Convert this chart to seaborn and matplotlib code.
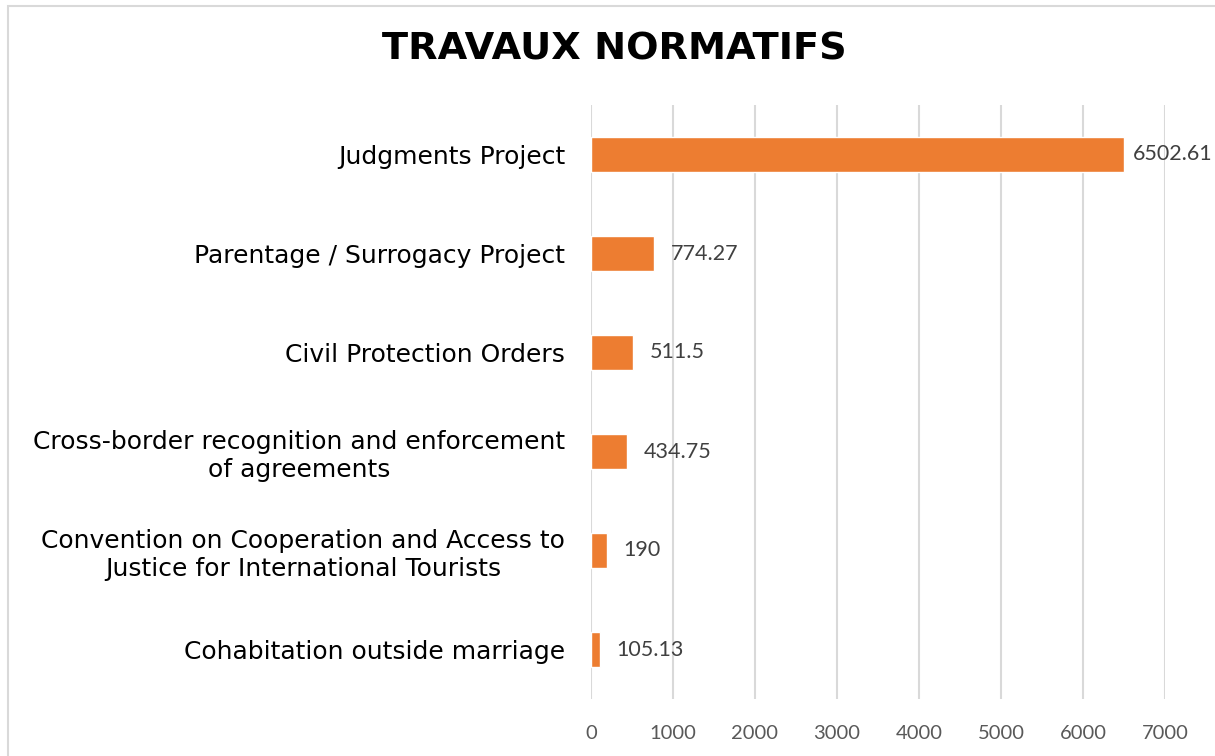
import matplotlib
matplotlib.use("Agg")
import matplotlib.pyplot as plt
import seaborn as sns
import pandas as pd
from matplotlib.patches import Rectangle

categories = [
    "Judgments Project",
    "Parentage / Surrogacy Project",
    "Civil Protection Orders",
    "Cross-border recognition and enforcement\nof agreements",
    "Convention on Cooperation and Access to\nJustice for International Tourists",
    "Cohabitation outside marriage",
]
values = [6502.61, 774.27, 511.5, 434.75, 190, 105.13]
value_labels = ["6502.61", "774.27", "511.5", "434.75", "190", "105.13"]
x_ticks = [0, 1000, 2000, 3000, 4000, 5000, 6000, 7000]
title = "TRAVAUX NORMATIFS"

sns.set_theme(style="white")
plt.rcParams["font.family"] = ["DejaVu Sans"]

df = pd.DataFrame({"cat": categories, "val": values})

fig = plt.figure(figsize=(12.15, 7.56), dpi=100)
fig.patch.set_facecolor("white")
ax = fig.add_axes([591 / 1215, 1 - 699 / 756, 574 / 1215, 594 / 756])

sns.barplot(data=df, y="cat", x="val", orient="h", color="#ED7D31",
            width=0.35, ax=ax, saturation=1, zorder=3)

ax.set_xlim(0, 7000)
ax.set_ylim(5.5, -0.5)
ax.set_xticks(x_ticks)
ax.set_xticklabels([str(t) for t in x_ticks], fontsize=14.5, color="#595959",
                   family="Lato")
ax.tick_params(axis="x", length=0, pad=19)
ax.tick_params(axis="y", length=0, pad=18.5)
for lbl in ax.get_yticklabels():
    lbl.set_fontsize(18)
    lbl.set_color("black")
    lbl.set_multialignment("center")
ax.set_xlabel("")
ax.set_ylabel("")
for s in ax.spines.values():
    s.set_visible(False)
ax.grid(axis="x", color="#D9D9D9", linewidth=1.5, zorder=0)
ax.grid(axis="y", visible=False)
ax.set_axisbelow(True)

xmax = ax.get_xlim()[1]
for i, (v, t) in enumerate(zip(values, value_labels)):
    off = 6 if v > 0.85 * xmax else 12
    ax.annotate(t, xy=(v, i), xytext=(off, 0), textcoords="offset points",
                va="center", ha="left", fontsize=15.5, color="#404040",
                family="Lato")

fig.text(614 / 1215, 1 - 50 / 756, title, ha="center", va="center",
         fontsize=27.5, fontweight="bold", color="black")

fig.patches.append(Rectangle((8 / 1215, -0.1), 2.0, 1 - 6 / 756 + 0.1,
                             transform=fig.transFigure, fill=False,
                             edgecolor="#D9D9D9", linewidth=1.5, zorder=0))

fig.savefig("out.png", dpi=100, facecolor="white")
